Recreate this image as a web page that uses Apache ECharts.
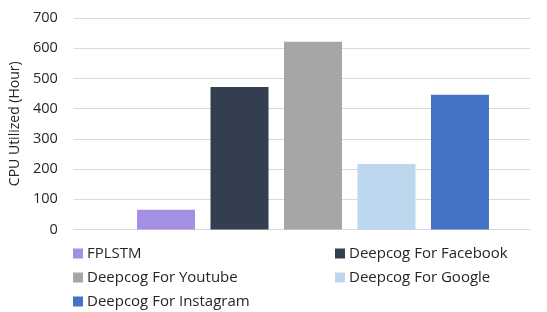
<!DOCTYPE html>
<html><head><meta charset="utf-8">
<script src="https://cdn.jsdelivr.net/npm/echarts@6/dist/echarts.min.js"></script>
<style>html,body{margin:0;padding:0;background:#fff}#c{width:547px;height:312px}</style>
</head><body><div id="c"></div>
<script>
const seriesNames = ['FPLSTM','Deepcog For Facebook','Deepcog For Youtube','Deepcog For Google','Deepcog For Instagram'];
const seriesValues = [65, 472, 621, 217, 446];
const colors = ['#A390E4','#333F50','#A6A6A6','#BDD7EE','#4472C4'];
const yTicks = [0,100,200,300,400,500,600,700];
const yTitle = 'CPU Utilized (Hour)';

const chart = echarts.init(document.getElementById('c'), null, {renderer:'canvas'});
const font = 'Open Sans';
const legendPos = [[73,246],[335,246],[73,270],[335,270],[73,294]];
const option = {
  animation:false,
  grid:[
    {left:73,right:17,top:18,bottom:82.5},
    {left:96,right:17,top:18,bottom:82.5}
  ],
  xAxis:[
    {gridIndex:0,type:'category',data:[''],axisLine:{show:true,lineStyle:{color:'#d9d9d9'}},axisTick:{show:false},axisLabel:{show:false}},
    {gridIndex:1,type:'category',data:['CPU'],show:false}
  ],
  yAxis:[
    {gridIndex:0,type:'value',min:yTicks[0],max:yTicks[yTicks.length-1],interval:100,
     name:yTitle,nameLocation:'middle',nameGap:42,nameTextStyle:{fontFamily:font,fontSize:14,color:'#262626'},
     axisLabel:{fontFamily:font,fontSize:14.5,color:'#262626',margin:16},
     axisLine:{show:false},axisTick:{show:false},
     splitLine:{lineStyle:{color:'#d9d9d9',width:1}}},
    {gridIndex:1,type:'value',min:yTicks[0],max:yTicks[yTicks.length-1],interval:100,show:false,splitLine:{show:false}}
  ],
  legend: seriesNames.map((n,i)=>({
    data:[n],left:legendPos[i][0],top:legendPos[i][1],itemWidth:10,itemHeight:10,itemGap:4,
    icon:'rect',textStyle:{fontFamily:font,fontSize:15,color:'#262626',padding:[0,0,0,-1]},padding:0
  })),
  series: seriesNames.map((n,i)=>({
    name:n,type:'bar',xAxisIndex:1,yAxisIndex:1,data:[seriesValues[i]],
    barWidth:58,barGap:'26.7%',itemStyle:{color:colors[i]}
  }))
};
chart.setOption(option);
</script></body></html>
